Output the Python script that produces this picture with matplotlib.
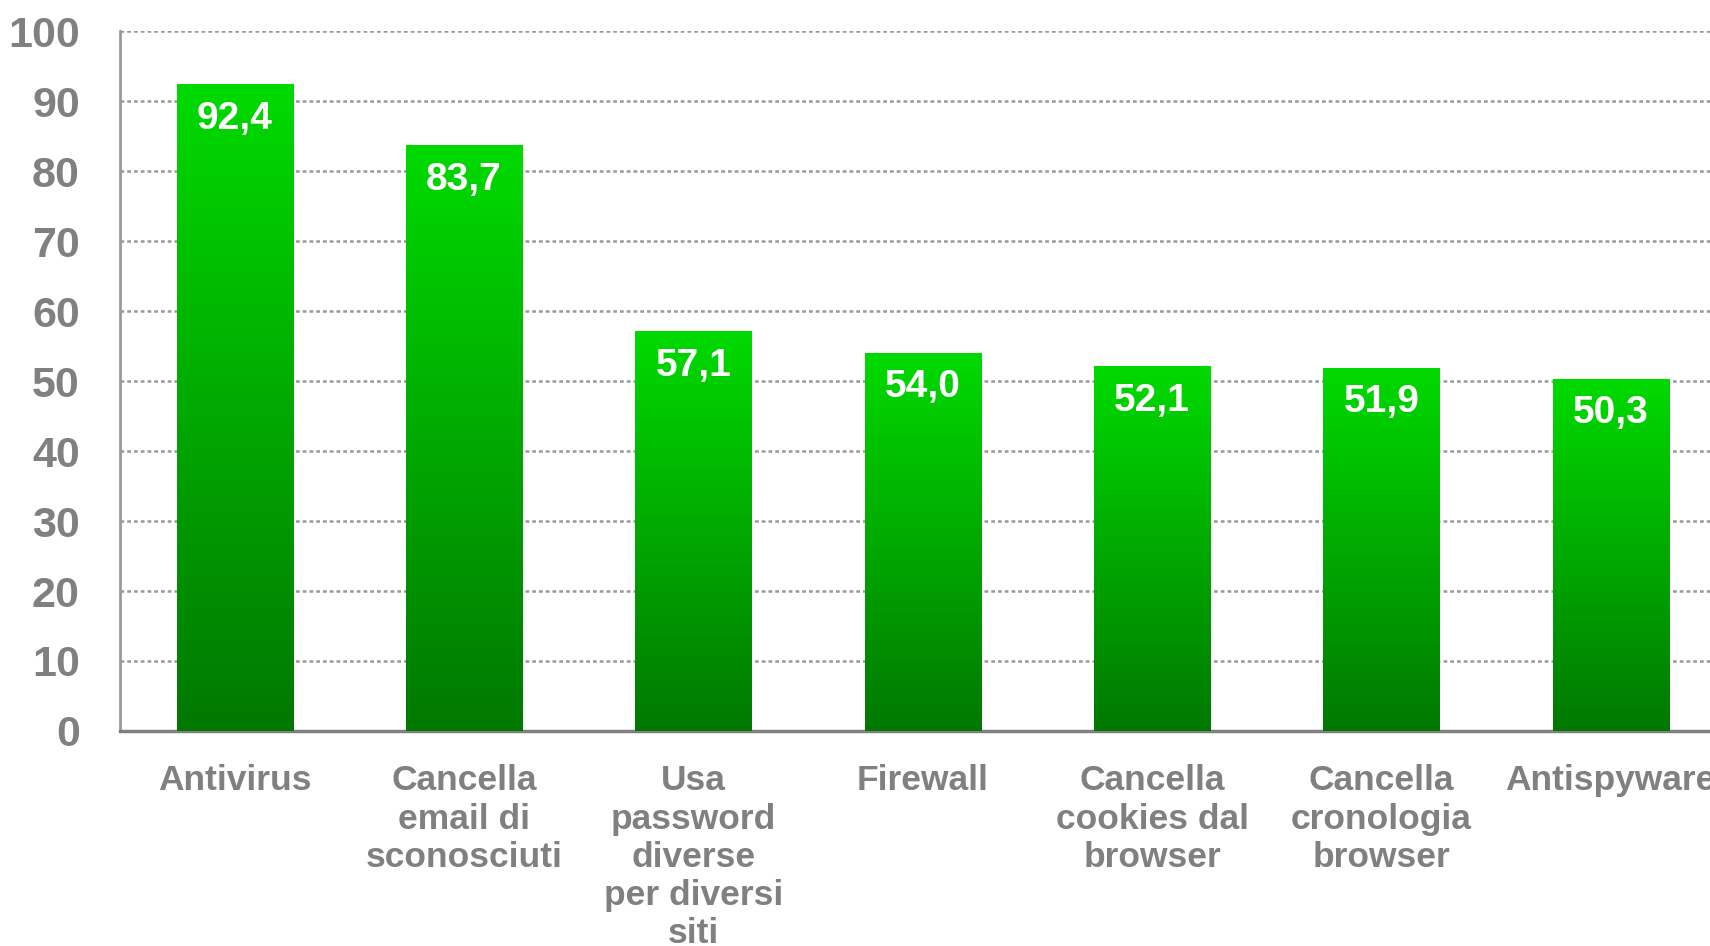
import numpy as np
import matplotlib
matplotlib.use("Agg")
import matplotlib.pyplot as plt
from matplotlib.colors import LinearSegmentedColormap

categories = ["Antivirus", "Cancella\nemail di\nsconosciuti", "Usa\npassword\ndiverse\nper diversi\nsiti",
              "Firewall", "Cancella\ncookies dal\nbrowser", "Cancella\ncronologia\nbrowser", "Antispyware"]
values = [92.4, 83.7, 57.1, 54.0, 52.1, 51.9, 50.3]
value_labels = ["92,4", "83,7", "57,1", "54,0", "52,1", "51,9", "50,3"]
yticks = [0, 10, 20, 30, 40, 50, 60, 70, 80, 90, 100]

plt.rcParams['font.family'] = ['Liberation Sans', 'DejaVu Sans']
fig = plt.figure(figsize=(17.1, 9.46), dpi=100)
ax = fig.add_axes([0.0702, 0.2273, 1.009 - 0.0702, 0.967 - 0.2273])

cmap = LinearSegmentedColormap.from_list("g", ["#007800", "#00DA00"])
grad = np.linspace(0, 1, 256).reshape(-1, 1)
width = 0.506
x = np.arange(len(values))
bars = ax.bar(x, values, width=width, color="none", zorder=3)
for b, v, lab in zip(bars, values, value_labels):
    x0 = b.get_x()
    im = ax.imshow(grad, extent=[x0, x0 + width, 0, v], aspect='auto', cmap=cmap,
                   origin='lower', zorder=3)
    im.set_clip_path(b)
    ax.text(x0 + width / 2, v - 4.9, lab, ha='center', va='center', color='white',
            fontsize=28, fontweight='bold', zorder=4)

ax.set_xlim(-0.5, 6.5)
ax.set_ylim(0, 100)
ax.set_yticks(yticks)
ax.set_yticklabels([str(t) for t in yticks], fontsize=31, fontweight='bold', color='#808080')
ax.set_xticks(x)
ax.set_xticklabels(categories, fontsize=25.5, fontweight='bold', color='#808080', linespacing=1.2)
ax.tick_params(axis='y', length=0, pad=29)
ax.tick_params(axis='x', length=0, pad=24)
for t in yticks[1:]:
    ax.axhline(t, color='#999999', linestyle=(0, (1.5, 1.2)), linewidth=1.8, zorder=1)
for s in ['top', 'right']:
    ax.spines[s].set_visible(False)
ax.spines['left'].set_color('#999999')
ax.spines['left'].set_linewidth(2)
ax.spines['bottom'].set_color('#808080')
ax.spines['bottom'].set_linewidth(2.5)
ax.set_facecolor('white')
fig.savefig("out.png", dpi=100, facecolor='white')
